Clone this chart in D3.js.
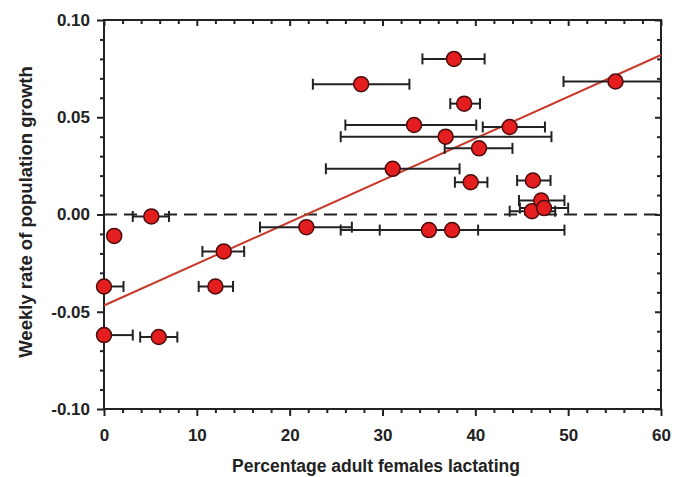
<!DOCTYPE html>
<html>
<head>
<meta charset="utf-8">
<script src="https://cdn.jsdelivr.net/npm/d3@7"></script>
<style>
  body { margin: 0; background: #fff; }
  svg text { font-family: "Liberation Sans", Arial, sans-serif; font-weight: bold; fill: #222; }
</style>
</head>
<body>
<svg id="chart" width="675" height="477"></svg>
<script>
// percentage of adult females lactating (x) and weekly growth rate (y)
var pctLactating = [0.0, 0.0, 1.1, 5.1, 5.9, 12.0, 12.9, 21.8, 27.7, 31.1, 33.4, 35.0,
                    36.8, 37.5, 37.7, 38.8, 39.5, 40.4, 43.7, 46.1, 46.2, 47.1, 47.4, 55.1];
var growthRate   = [-0.037, -0.062, -0.011, -0.001, -0.063, -0.037, -0.019, -0.0065, 0.067, 0.0235, 0.046, -0.008,
                    0.040, -0.008, 0.080, 0.057, 0.0166, 0.034, 0.045, 0.0017, 0.0175, 0.0072, 0.0033, 0.0684];
// horizontal error bar ends
var errLow  = [0.0, 0.0, 1.1, 3.1, 3.9, 10.2, 10.6, 16.8, 22.5, 23.9, 26.0, 29.7,
               25.5, 25.5, 34.3, 37.3, 37.8, 36.7, 40.8, 43.7, 44.5, 44.7, 44.8, 49.5];
var errHigh = [2.1, 3.1, 1.1, 7.0, 7.9, 13.9, 15.1, 26.7, 32.9, 38.3, 40.1, 40.3,
               48.2, 49.6, 41.0, 40.5, 41.3, 44.0, 47.5, 48.6, 48.1, 49.6, 50.0, 60.0];
// fitted regression line
var fitX = [0, 60];
var fitY = [-0.0468, 0.082];

var xMajor = [0, 10, 20, 30, 40, 50, 60];
var yMajor = [-0.10, -0.05, 0.00, 0.05, 0.10];

var plotL = 104, plotR = 661, plotT = 20, plotB = 409;

var svg = d3.select("#chart");
var x = d3.scaleLinear().domain([0, 60]).range([plotL, plotR]);
var y = d3.scaleLinear().domain([-0.10, 0.10]).range([plotB, plotT]);

var xMinor = d3.range(0, 61, 2).filter(function (d) { return d % 10 !== 0; });
var yMinor = d3.range(-10, 11, 1).filter(function (d) { return d % 5 !== 0; }).map(function (d) { return d / 100; });

// plain hyphen for negatives, as in the original
var fmtY = function (d) { return d3.format(".2f")(d).replace("\u2212", "-"); };

function styleAxis(g) {
    g.select(".domain").remove();
    g.selectAll(".tick line").attr("stroke", "#222").attr("stroke-width", 2);
    g.selectAll(".tick text").attr("font-size", 17).attr("fill", "#222");
}

// bottom axis (ticks outward)
svg.append("g").attr("transform", "translate(0," + plotB + ")")
    .call(d3.axisBottom(x).tickValues(xMajor).tickSize(7).tickPadding(13).tickFormat(d3.format("d")))
    .call(styleAxis);
svg.append("g").attr("transform", "translate(0," + plotB + ")")
    .call(d3.axisBottom(x).tickValues(xMinor).tickSize(4).tickFormat(""))
    .call(styleAxis);
// top axis (ticks inward)
svg.append("g").attr("transform", "translate(0," + plotT + ")")
    .call(d3.axisBottom(x).tickValues(xMajor).tickSize(6).tickFormat(""))
    .call(styleAxis);
svg.append("g").attr("transform", "translate(0," + plotT + ")")
    .call(d3.axisBottom(x).tickValues(xMinor).tickSize(4).tickFormat(""))
    .call(styleAxis);
// left axis (ticks outward)
svg.append("g").attr("transform", "translate(" + plotL + ",0)")
    .call(d3.axisLeft(y).tickValues(yMajor).tickSize(7).tickPadding(7).tickFormat(fmtY))
    .call(styleAxis);
svg.append("g").attr("transform", "translate(" + plotL + ",0)")
    .call(d3.axisLeft(y).tickValues(yMinor).tickSize(4).tickFormat(""))
    .call(styleAxis);
// right axis (ticks inward)
svg.append("g").attr("transform", "translate(" + plotR + ",0)")
    .call(d3.axisLeft(y).tickValues(yMajor).tickSize(6).tickFormat(""))
    .call(styleAxis);
svg.append("g").attr("transform", "translate(" + plotR + ",0)")
    .call(d3.axisLeft(y).tickValues(yMinor).tickSize(4).tickFormat(""))
    .call(styleAxis);

// frame
svg.append("rect")
    .attr("x", plotL).attr("y", plotT)
    .attr("width", plotR - plotL).attr("height", plotB - plotT)
    .attr("fill", "none").attr("stroke", "#222").attr("stroke-width", 2);

// zero line
svg.append("line")
    .attr("x1", x(0)).attr("x2", x(60))
    .attr("y1", y(0)).attr("y2", y(0))
    .attr("stroke", "#222").attr("stroke-width", 2)
    .attr("stroke-dasharray", "13,7");

// regression line
svg.append("line")
    .attr("x1", x(fitX[0])).attr("y1", y(fitY[0]))
    .attr("x2", x(fitX[1])).attr("y2", y(fitY[1]))
    .attr("stroke", "#c83a2c").attr("stroke-width", 2);

var idx = d3.range(pctLactating.length);

// error bars
var eb = svg.append("g").attr("stroke", "#222").attr("stroke-width", 2);
eb.selectAll(".bar").data(idx.filter(function (i) { return errHigh[i] > errLow[i]; }))
    .enter().append("line")
    .attr("x1", function (i) { return x(errLow[i]); })
    .attr("x2", function (i) { return x(errHigh[i]); })
    .attr("y1", function (i) { return y(growthRate[i]); })
    .attr("y2", function (i) { return y(growthRate[i]); });
var caps = [];
idx.forEach(function (i) {
    if (errLow[i] < pctLactating[i]) caps.push({ v: errLow[i], r: growthRate[i] });
    if (errHigh[i] > pctLactating[i] && errHigh[i] < 60) caps.push({ v: errHigh[i], r: growthRate[i] });
});
eb.selectAll(".cap").data(caps)
    .enter().append("line")
    .attr("x1", function (d) { return x(d.v); })
    .attr("x2", function (d) { return x(d.v); })
    .attr("y1", function (d) { return y(d.r) - 5.5; })
    .attr("y2", function (d) { return y(d.r) + 5.5; });

// points
svg.append("g").selectAll("circle").data(idx)
    .enter().append("circle")
    .attr("cx", function (i) { return x(pctLactating[i]); })
    .attr("cy", function (i) { return y(growthRate[i]); })
    .attr("r", 7.5)
    .attr("fill", "#e41e1e")
    .attr("stroke", "#4a0c0c")
    .attr("stroke-width", 1.5);

// axis titles
svg.append("text")
    .attr("x", 376).attr("y", 472)
    .attr("text-anchor", "middle")
    .attr("font-size", 17.5)
    .text("Percentage adult females lactating");
svg.append("text")
    .attr("transform", "translate(32,212) rotate(-90)")
    .attr("text-anchor", "middle")
    .attr("font-size", 18.5)
    .text("Weekly rate of population growth");
</script>
</body>
</html>
